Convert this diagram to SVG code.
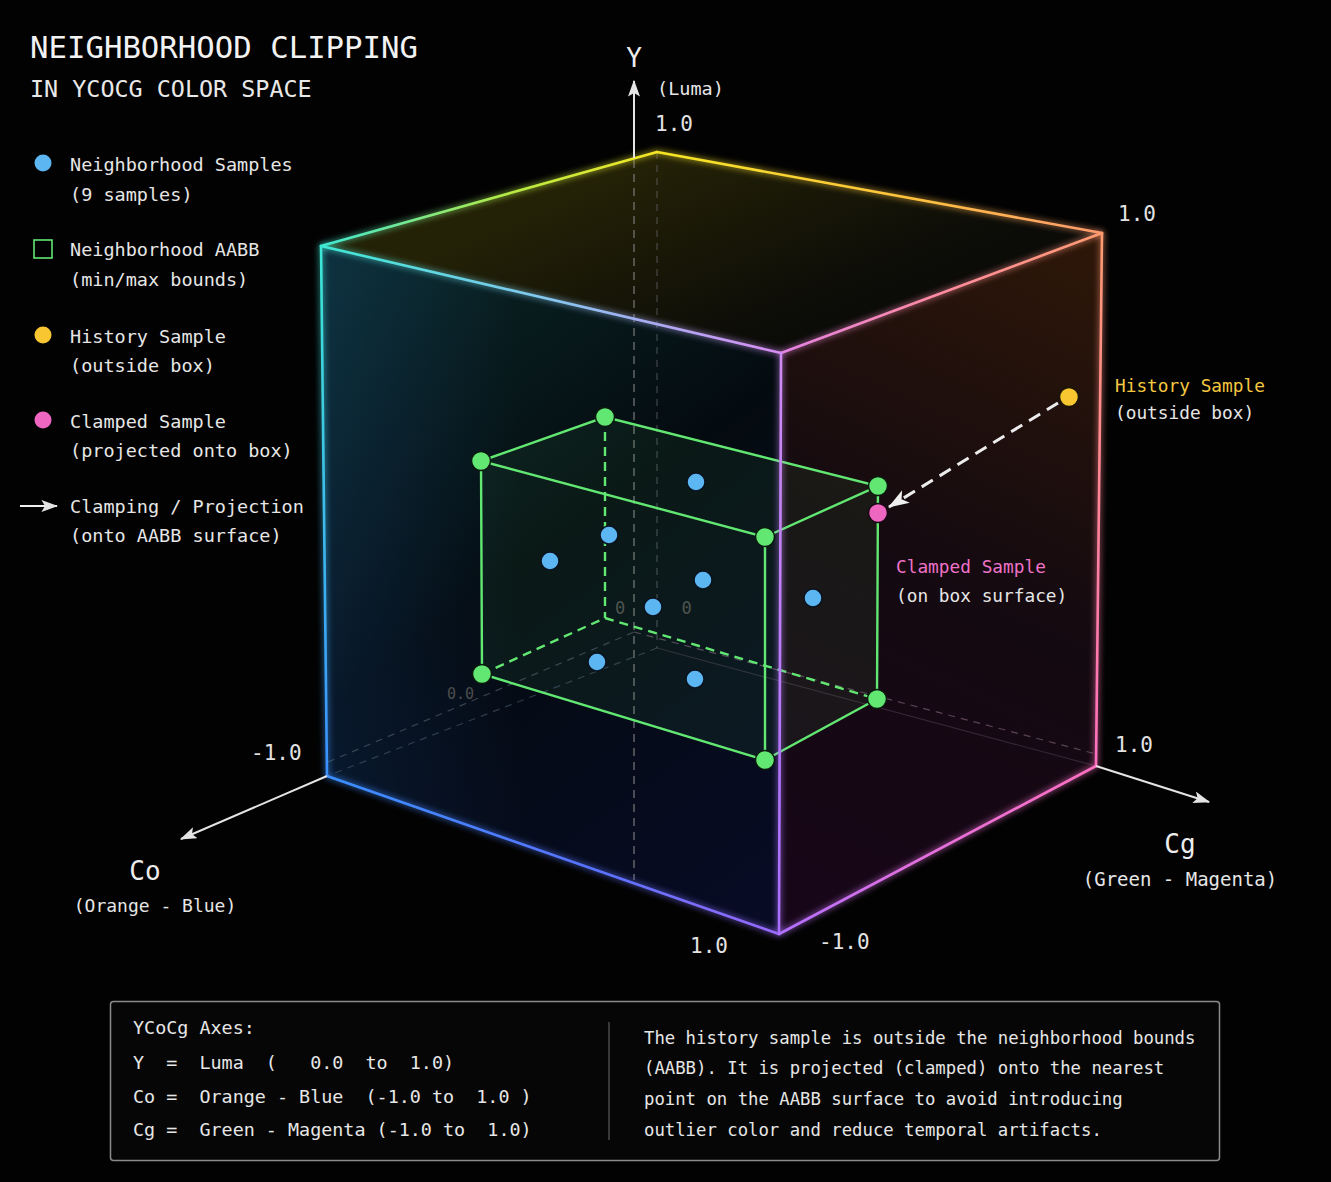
<svg xmlns="http://www.w3.org/2000/svg" width="1331" height="1182" viewBox="0 0 1331 1182">
<defs>
<style>
text{font-family:'DejaVu Sans Mono','Liberation Mono',monospace;fill:#e6e6e6;white-space:pre}
.title{font-size:30.7px;fill:#f2f2f2}
.sub{font-size:23.4px;fill:#e8e8e8}
.leg{font-size:18.5px}
.lab{font-size:17.8px}
.tick{font-size:21px;fill:#e2e2e2}
.axis{font-size:26px;fill:#ececec}
.axsub{font-size:18.5px}
.note{font-size:18.4px}
.note2{font-size:17.3px}
.faint{font-size:15px;fill:#4c4c4c}
.gedge{stroke:#62e872;stroke-width:2.4;fill:none;stroke-linecap:round}
.gdash{stroke:#62e872;stroke-width:2.4;fill:none;stroke-dasharray:9 6}
.gface{fill:#5ad070;fill-opacity:0.075;stroke:none}
.gv{fill:#62e872;stroke:#0b1a0e;stroke-width:1.5}
.bs{fill:#5cb6f2;stroke:#0a1420;stroke-width:1.5}
.hid{stroke:#6a6a72;stroke-width:1.2;fill:none;stroke-dasharray:7 6;opacity:.6}
.edge{stroke-width:2.6;fill:none;stroke-linecap:round}
.axl{stroke:#e4e4e4;stroke-width:2;fill:none}
</style>
<marker id="ah" viewBox="0 0 14 10" refX="13" refY="5" markerWidth="17" markerHeight="12" markerUnits="userSpaceOnUse" orient="auto"><path d="M0,0 L14,5 L0,10 L3,5 Z" fill="#e4e4e4"/></marker>
<marker id="ahc" viewBox="0 0 20 14" refX="19" refY="7" markerWidth="21" markerHeight="15" markerUnits="userSpaceOnUse" orient="auto"><path d="M0,0 L20,7 L0,14 L5,7 Z" fill="#efefef"/></marker>
<filter id="glow" x="-10%" y="-10%" width="120%" height="120%"><feGaussianBlur stdDeviation="3" result="b"/><feMerge><feMergeNode in="b"/><feMergeNode in="SourceGraphic"/></feMerge></filter>
<linearGradient id="gTLTB" gradientUnits="userSpaceOnUse" x1="321" y1="246" x2="657" y2="152"><stop offset="0" stop-color="#3ee8d4"/><stop offset="0.55" stop-color="#b4ea44"/><stop offset="1" stop-color="#f5e626"/></linearGradient>
<linearGradient id="gTBTR" gradientUnits="userSpaceOnUse" x1="657" y1="152" x2="1102" y2="233"><stop offset="0" stop-color="#f5e626"/><stop offset="0.6" stop-color="#ffc040"/><stop offset="1" stop-color="#ff9a70"/></linearGradient>
<linearGradient id="gTLTF" gradientUnits="userSpaceOnUse" x1="321" y1="246" x2="781" y2="353"><stop offset="0" stop-color="#3ee8d4"/><stop offset="0.5" stop-color="#86c6f0"/><stop offset="1" stop-color="#d88cf4"/></linearGradient>
<linearGradient id="gTFTR" gradientUnits="userSpaceOnUse" x1="781" y1="353" x2="1102" y2="233"><stop offset="0" stop-color="#e482e4"/><stop offset="0.5" stop-color="#ff8ca0"/><stop offset="1" stop-color="#ff9a70"/></linearGradient>
<linearGradient id="gTLBL" gradientUnits="userSpaceOnUse" x1="321" y1="246" x2="327" y2="776"><stop offset="0" stop-color="#3ee8d4"/><stop offset="1" stop-color="#3a90ff"/></linearGradient>
<linearGradient id="gTFBF" gradientUnits="userSpaceOnUse" x1="781" y1="353" x2="779" y2="934"><stop offset="0" stop-color="#d08cf4"/><stop offset="1" stop-color="#a86eff"/></linearGradient>
<linearGradient id="gTRBR" gradientUnits="userSpaceOnUse" x1="1102" y1="233" x2="1096" y2="766"><stop offset="0" stop-color="#ff9a70"/><stop offset="1" stop-color="#ff70c0"/></linearGradient>
<linearGradient id="gBLBF" gradientUnits="userSpaceOnUse" x1="327" y1="776" x2="779" y2="934"><stop offset="0" stop-color="#3a90ff"/><stop offset="0.6" stop-color="#5a72ff"/><stop offset="1" stop-color="#9a6aff"/></linearGradient>
<linearGradient id="gBFBR" gradientUnits="userSpaceOnUse" x1="779" y1="934" x2="1096" y2="766"><stop offset="0" stop-color="#b070ff"/><stop offset="0.4" stop-color="#e070e0"/><stop offset="1" stop-color="#ff70c0"/></linearGradient>
<linearGradient id="fLeft" gradientUnits="userSpaceOnUse" x1="321" y1="300" x2="760" y2="900"><stop offset="0" stop-color="#0a2626"/><stop offset="0.45" stop-color="#040b10"/><stop offset="1" stop-color="#070b24"/></linearGradient>
<linearGradient id="fLeft2" gradientUnits="userSpaceOnUse" x1="321" y1="0" x2="520" y2="0"><stop offset="0" stop-color="#2a80ff" stop-opacity="0.12"/><stop offset="1" stop-color="#2a80ff" stop-opacity="0"/></linearGradient>
<linearGradient id="fRight" gradientUnits="userSpaceOnUse" x1="1100" y1="240" x2="800" y2="900"><stop offset="0" stop-color="#2e1708"/><stop offset="0.5" stop-color="#140a10"/><stop offset="1" stop-color="#170618"/></linearGradient>
<linearGradient id="fTop" gradientUnits="userSpaceOnUse" x1="657" y1="152" x2="740" y2="350"><stop offset="0" stop-color="#242206"/><stop offset="1" stop-color="#0b0b08"/></linearGradient>
</defs>
<rect width="1331" height="1182" fill="#020202"/>

<g id="cube-faces">
<polygon points="321,246 657,152 1102,233 781,353" fill="url(#fTop)"/>
<polygon points="321,246 781,353 779,934 327,776" fill="url(#fLeft)"/>
<polygon points="321,246 781,353 779,934 327,776" fill="url(#fLeft2)"/>
<polygon points="781,353 1102,233 1096,766 779,934" fill="url(#fRight)"/>
</g>

<g id="connectors">
<g id="hidden-lines">
<line class="hid" x1="657" y1="152" x2="657" y2="648"/>
<line class="hid" x1="657" y1="648" x2="327" y2="776" style="stroke:#4a5a70"/>
<line class="hid" x1="657" y1="648" x2="1096" y2="766" style="stroke:#5a4a60;stroke-dasharray:none;opacity:.45"/>
<line class="hid" x1="328" y1="762" x2="634" y2="632" style="stroke:#5a6070"/>
<line class="hid" x1="634" y1="632" x2="1096" y2="754" style="stroke:#8a6a80"/>
<line x1="634" y1="160" x2="634" y2="880" stroke="#7a7a7a" stroke-width="1.6" stroke-dasharray="8 6" opacity="0.75"/>
</g>
<text class="faint" x="447" y="699">0.0</text>
<text class="faint" x="615" y="614" style="font-size:17px;letter-spacing:23px">0.0</text>

<g id="aabb">
<polygon class="gface" points="481,461 605,417 878,486 765,537"/>
<polygon class="gface" points="481,461 765,537 765,760 482,674"/>
<polygon class="gface" points="765,537 878,486 877,699 765,760"/>
<line class="gdash" x1="605" y1="417" x2="605" y2="618"/>
<line class="gdash" x1="482" y1="674" x2="605" y2="618"/>
<line class="gdash" x1="605" y1="618" x2="877" y2="699"/>
<path class="gedge" d="M481,461 L605,417 L878,486 L765,537 Z M481,461 L482,674 L765,760 L877,699 L878,486 M765,537 L765,760"/>
</g>

<g id="cube-edges" filter="url(#glow)">
<line class="edge" x1="321" y1="246" x2="657" y2="152" stroke="url(#gTLTB)"/>
<line class="edge" x1="657" y1="152" x2="1102" y2="233" stroke="url(#gTBTR)"/>
<line class="edge" x1="321" y1="246" x2="781" y2="353" stroke="url(#gTLTF)"/>
<line class="edge" x1="781" y1="353" x2="1102" y2="233" stroke="url(#gTFTR)"/>
<line class="edge" x1="321" y1="246" x2="327" y2="776" stroke="url(#gTLBL)"/>
<line class="edge" x1="781" y1="353" x2="779" y2="934" stroke="url(#gTFBF)"/>
<line class="edge" x1="1102" y1="233" x2="1096" y2="766" stroke="url(#gTRBR)"/>
<line class="edge" x1="327" y1="776" x2="779" y2="934" stroke="url(#gBLBF)"/>
<line class="edge" x1="779" y1="934" x2="1096" y2="766" stroke="url(#gBFBR)"/>
</g>

<g id="axes">
<line class="axl" x1="634" y1="158" x2="634" y2="81" marker-end="url(#ah)"/>
<line class="axl" x1="327" y1="776" x2="181" y2="839" marker-end="url(#ah)"/>
<line class="axl" x1="1096" y1="766" x2="1209" y2="802" marker-end="url(#ah)"/>
</g>

<path id="clamp-arrow" d="M1058,403 L889,507" stroke="#ececec" stroke-width="3" stroke-dasharray="13 8" fill="none" marker-end="url(#ahc)"/>
</g>

<g id="aabb-vertices">
<circle class="gv" cx="481" cy="461" r="9.5"/>
<circle class="gv" cx="605" cy="417" r="9.5"/>
<circle class="gv" cx="878" cy="486" r="9.5"/>
<circle class="gv" cx="765" cy="537" r="9.5"/>
<circle class="gv" cx="482" cy="674" r="9.5"/>
<circle class="gv" cx="765" cy="760" r="9.5"/>
<circle class="gv" cx="877" cy="699" r="9.5"/>
</g>

<g id="samples">
<circle class="bs" cx="696" cy="482" r="9"/>
<circle class="bs" cx="609" cy="535" r="9"/>
<circle class="bs" cx="550" cy="561" r="9"/>
<circle class="bs" cx="703" cy="580" r="9"/>
<circle class="bs" cx="653" cy="607" r="9"/>
<circle class="bs" cx="813" cy="598" r="9"/>
<circle class="bs" cx="597" cy="662" r="9"/>
<circle class="bs" cx="695" cy="679" r="9"/>
</g>

<g id="history-sample">
<circle cx="1069" cy="397" r="9.5" fill="#f8c630" stroke="#1a1408" stroke-width="1.5"/>
<text class="lab" x="1115" y="392" style="fill:#f5c840">History Sample</text>
<text class="lab" x="1115" y="419">(outside box)</text>
</g>

<g id="clamped-sample">
<circle cx="878" cy="513" r="9.5" fill="#ee66c0" stroke="#1a0814" stroke-width="1.5"/>
<text class="lab" x="896" y="573" style="fill:#ee72c8">Clamped Sample</text>
<text class="lab" x="896" y="602">(on box surface)</text>
</g>

<g id="axis-labels">
<text class="axis" x="634" y="67" text-anchor="middle">Y</text>
<text class="axsub" x="657" y="95">(Luma)</text>
<text class="tick" x="655" y="131">1.0</text>
<text class="tick" x="1118" y="221">1.0</text>
<text class="tick" x="251" y="760">-1.0</text>
<text class="tick" x="690" y="953">1.0</text>
<text class="tick" x="819" y="949">-1.0</text>
<text class="tick" x="1115" y="752">1.0</text>
<text class="axis" x="145" y="880" text-anchor="middle">Co</text>
<text class="axsub" x="155" y="912" text-anchor="middle" style="font-size:18px">(Orange - Blue)</text>
<text class="axis" x="1180" y="853" text-anchor="middle">Cg</text>
<text class="axsub" x="1180" y="886" text-anchor="middle" style="font-size:19px">(Green - Magenta)</text>
</g>

<g id="title">
<text class="title" x="30" y="58">NEIGHBORHOOD CLIPPING</text>
<text class="sub" x="30" y="97">IN YCOCG COLOR SPACE</text>
</g>

<g id="legend">
<circle cx="43" cy="163" r="8.5" fill="#5cb6f2"/>
<text class="leg" x="70" y="171">Neighborhood Samples</text>
<text class="leg" x="70" y="201">(9 samples)</text>
<rect x="34" y="240" width="18" height="18" fill="none" stroke="#62e872" stroke-width="1.6"/>
<text class="leg" x="70" y="256">Neighborhood AABB</text>
<text class="leg" x="70" y="286">(min/max bounds)</text>
<circle cx="43" cy="335" r="8.5" fill="#f8c630"/>
<text class="leg" x="70" y="343">History Sample</text>
<text class="leg" x="70" y="372">(outside box)</text>
<circle cx="43" cy="420" r="8.5" fill="#ee66c0"/>
<text class="leg" x="70" y="428">Clamped Sample</text>
<text class="leg" x="70" y="457">(projected onto box)</text>
<line x1="20" y1="506" x2="57" y2="506" stroke="#efefef" stroke-width="2" marker-end="url(#ah)"/>
<text class="leg" x="70" y="513">Clamping / Projection</text>
<text class="leg" x="70" y="542">(onto AABB surface)</text>
</g>

<g id="info-box">
<rect x="110.5" y="1001.5" width="1109" height="159" rx="3" fill="#060606" stroke="#8a8a8a" stroke-width="1.5"/>
<line x1="609" y1="1022" x2="609" y2="1140" stroke="#4a4a4a" stroke-width="1.5"/>
<text class="note" x="133" y="1034">YCoCg Axes:</text>
<text class="note" x="133" y="1069" xml:space="preserve">Y  =  Luma  (   0.0  to  1.0)</text>
<text class="note" x="133" y="1103" xml:space="preserve">Co =  Orange - Blue  (-1.0 to  1.0 )</text>
<text class="note" x="133" y="1136" xml:space="preserve">Cg =  Green - Magenta (-1.0 to  1.0)</text>
<text class="note2" x="644" y="1044">The history sample is outside the neighborhood bounds</text>
<text class="note2" x="644" y="1074">(AABB). It is projected (clamped) onto the nearest</text>
<text class="note2" x="644" y="1105">point on the AABB surface to avoid introducing</text>
<text class="note2" x="644" y="1136">outlier color and reduce temporal artifacts.</text>
</g>
</svg>
